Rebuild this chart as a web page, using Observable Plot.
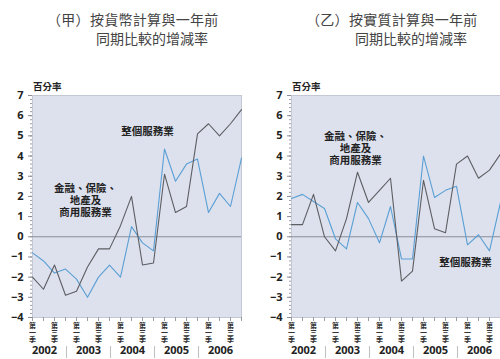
<!DOCTYPE html>
<html><head><meta charset="utf-8">
<script src="https://cdn.jsdelivr.net/npm/d3@7"></script>
<script src="https://cdn.jsdelivr.net/npm/@observablehq/plot@0.6"></script>
<style>
html,body{margin:0;padding:0;background:#fff}
body{width:500px;height:359px;overflow:hidden;position:relative;font-family:"Noto Sans CJK TC","Noto Sans",sans-serif}
.panel{position:absolute;top:0;height:359px}
.tline{position:absolute;font-size:14px;line-height:19px;color:#444;white-space:nowrap}
.unit{position:absolute;font-size:9.5px;font-weight:bold;color:#222;white-space:nowrap}
.chart{position:absolute;left:0;top:50px}
</style></head><body>
<script>
// ---- data ----
const years = ["2002","2003","2004","2005","2006"];
const quarterNumbers = [1,2,3,4];
const quarterTickLabels = {1: "第\n一\n季", 3: "第\n三\n季"};
const quarters = years.flatMap(y => quarterNumbers.map(q => `${y}Q${q}`));
const yTicks = [-4,-3,-2,-1,0,1,2,3,4,5,6,7];
const unitLabel = "百分率";
const seriesNames = ["整個服務業", "金融、保險、\n地產及\n商用服務業"];

// (甲) nominal
const nominalServices = [-2.0,-2.6,-1.4,-2.9, -2.7,-1.5,-0.6,-0.6, 0.55,2.0,-1.4,-1.3, 3.1,1.2,1.5,5.1, 5.6,5.0,5.6,6.3];
const nominalFinance  = [-0.8,-1.2,-1.8,-1.6, -2.1,-3.0,-2.0,-1.4, -2.0,0.5,-0.3,-0.7, 4.35,2.75,3.6,3.85, 1.2,2.15,1.5,3.9];
// (乙) real
const realServices = [0.6,0.6,2.1,0.0, -0.7,0.9,3.2,1.7, 2.3,2.9,-2.2,-1.7, 2.8,0.4,0.2,3.6, 4.0,2.9,3.3,4.1];
const realFinance  = [1.9,2.1,1.75,1.4, -0.1,-0.6,1.7,0.9, -0.3,1.5,-1.1,-1.1, 4.0,1.95,2.3,2.5, -0.4,0.1,-0.7,1.7];

const panels = [
  {title1: "（甲）按貨幣計算與一年前", title2: "同期比較的增減率", services: nominalServices, finance: nominalFinance,
   left: 0, width: 250, marginRight: 9,
   servicesLabel: {x: "2004Q3", y: 5.2, dx: 5}, financeLabel: {x: "2003Q2", y: 1.8, dx: -2}},
  {title1: "（乙）按實質計算與一年前", title2: "同期比較的增減率", services: realServices, finance: realFinance,
   left: 259, width: 241, marginRight: 0,
   servicesLabel: {x: "2006Q1", y: -1.3, dx: -2}, financeLabel: {x: "2003Q3", y: 4.4, dx: -2}}
];

const minorTicks = d3.range(-4, 7.001, 0.2).map(v => +v.toFixed(2));
const q4s = years.slice(0, -1).map(y => `${y}Q4`);
const yearCenters = years.map(y => ({year: y, q: `${y}Q2`}));
const labelledQuarters = quarters.filter(q => quarterTickLabels[+q.slice(-1)]);

for (const p of panels) {
  const div = document.createElement("div");
  div.className = "panel";
  div.style.left = p.left + "px";
  div.style.width = p.width + "px";
  document.body.appendChild(div);

  const t1 = document.createElement("div");
  t1.className = "tline"; t1.textContent = p.title1;
  t1.style.left = "47px"; t1.style.top = "10px"; t1.style.letterSpacing = "0.3px";
  div.appendChild(t1);
  const t2 = document.createElement("div");
  t2.className = "tline"; t2.textContent = p.title2;
  t2.style.left = "96px"; t2.style.top = "29px";
  div.appendChild(t2);
  const u = document.createElement("div");
  u.className = "unit"; u.textContent = unitLabel;
  u.style.left = "33px"; u.style.top = "79px";
  div.appendChild(u);

  const sData = quarters.map((q, i) => ({q, v: p.services[i]}));
  const fData = quarters.map((q, i) => ({q, v: p.finance[i]}));

  const chart = Plot.plot({
    width: p.width,
    height: 309,
    marginTop: 45,
    marginBottom: 42,
    marginLeft: 32,
    marginRight: p.marginRight,
    style: {fontFamily: "'Open Sans','Noto Sans CJK TC',sans-serif", background: "transparent", overflow: "visible"},
    x: {type: "point", domain: quarters, padding: 0},
    y: {domain: [-4, 7]},
    marks: [
      Plot.frame({fill: "#dde1ee", stroke: "#c4c8d4"}),
      Plot.ruleY([0], {stroke: "#8a8d96", strokeWidth: 1}),
      Plot.axisY({ticks: minorTicks, tickSize: 2, tickFormat: () => "", stroke: "#9a9da6", label: null}),
      Plot.axisY({ticks: yTicks, tickSize: 4, tickPadding: 5, fontSize: 11, fontWeight: "bold", fill: "#222", stroke: "#8a8d96", label: null}),
      Plot.axisX({ticks: quarters, tickSize: 4, tickFormat: () => "", stroke: "#9a9da6", label: null}),
      Plot.text(labelledQuarters, {x: d => d, text: q => quarterTickLabels[+q.slice(-1)], frameAnchor: "bottom", dy: 15,
        lineAnchor: "middle", lineHeight: 1.05, fontSize: 7, fontWeight: "bold", fill: "#333",
        fontFamily: "'Noto Sans CJK TC',sans-serif"}),
      Plot.text(yearCenters, {x: "q", text: "year", frameAnchor: "bottom", dy: 36, dx: 1, fontSize: 11, fontWeight: "bold", fill: "#222"}),
      Plot.ruleX(q4s, {x: d => d, insetTop: 251, insetBottom: -41, dx: 1, stroke: "#c0c0c0"}),
      Plot.line(fData, {x: "q", y: "v", stroke: "#5a9fd4", strokeWidth: 1.1}),
      Plot.line(sData, {x: "q", y: "v", stroke: "#5d5e62", strokeWidth: 1.1}),
      Plot.text([seriesNames[0]], {x: () => p.servicesLabel.x, y: () => p.servicesLabel.y, text: d => d, dx: p.servicesLabel.dx,
        fontSize: 10.5, fontWeight: "bold", fill: "#222", fontFamily: "'Noto Sans CJK TC',sans-serif"}),
      Plot.text([seriesNames[1]], {x: () => p.financeLabel.x, y: () => p.financeLabel.y, text: d => d, dx: p.financeLabel.dx,
        fontSize: 10.5, fontWeight: "bold", fill: "#222", lineHeight: 1.15, fontFamily: "'Noto Sans CJK TC',sans-serif"})
    ]
  });
  chart.classList.add("chart");
  div.appendChild(chart);
}
</script>
</body></html>
